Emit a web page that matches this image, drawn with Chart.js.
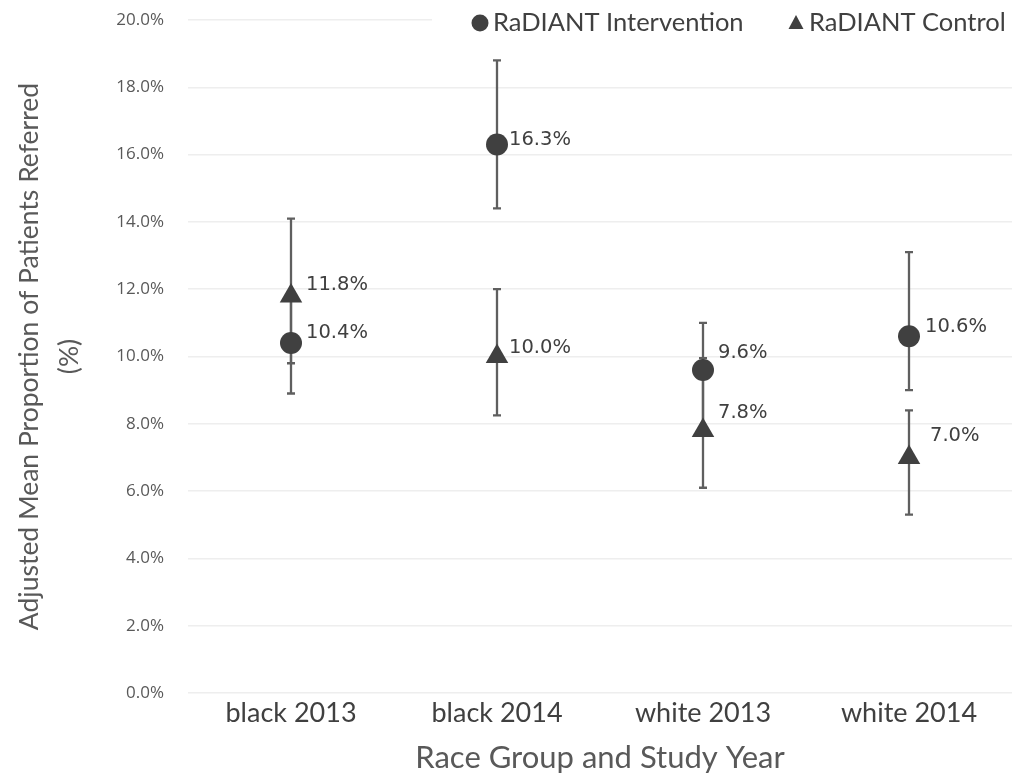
<!DOCTYPE html>
<html>
<head>
<meta charset="utf-8">
<style>
  html, body { margin: 0; padding: 0; background: #ffffff; overflow: hidden; }
  #wrap { width: 1025px; height: 777px; }
</style>
<script src="https://cdn.jsdelivr.net/npm/chart.js@4.4.1/dist/chart.umd.min.js"></script>
</head>
<body>
<div id="wrap"><canvas id="chart" width="1025" height="777"></canvas></div>
<script>
// Race group / study year categories
const categories = ['black 2013', 'black 2014', 'white 2013', 'white 2014'];

// Adjusted mean proportion referred (%), with 95% CI bounds
const intervention     = [10.4, 16.3, 9.6, 10.6];
const interventionLow  = [8.9, 14.4, 7.9, 9.0];
const interventionHigh = [11.9, 18.8, 11.0, 13.1];

const control     = [11.8, 10.0, 7.8, 7.0];
const controlLow  = [9.8, 8.25, 6.1, 5.3];
const controlHigh = [14.1, 12.0, 9.95, 8.4];

// y-axis ticks
const yTicks = [0, 2, 4, 6, 8, 10, 12, 14, 16, 18, 20];

// vertical nudge (px) of each value label relative to its marker
const intLabelDy  = [-10, -5, -17, -9];
const ctrlLabelDy = [-11, -9, -18, -22];

const markerColor = '#404040';
const barColor = '#5f5f5f';
const textDark = '#404040';
const textGray = '#595959';

// Error bars drawn beneath the markers, using the chart's own scales
const errorBars = {
  id: 'errorBars',
  beforeDatasetsDraw(chart) {
    const ctx = chart.ctx;
    const y = chart.scales.y;
    ctx.save();
    ctx.strokeStyle = barColor;
    ctx.lineWidth = 2.3;
    chart.data.datasets.forEach((ds, di) => {
      const meta = chart.getDatasetMeta(di);
      meta.data.forEach((pt, i) => {
        const x = pt.x;
        const y1 = y.getPixelForValue(ds.low[i]);
        const y2 = y.getPixelForValue(ds.high[i]);
        ctx.beginPath();
        ctx.moveTo(x, y1); ctx.lineTo(x, y2);
        ctx.moveTo(x - 4, y1); ctx.lineTo(x + 4, y1);
        ctx.moveTo(x - 4, y2); ctx.lineTo(x + 4, y2);
        ctx.stroke();
      });
    });
    ctx.restore();
  }
};

// Value labels beside each marker
const valueLabels = {
  id: 'valueLabels',
  afterDatasetsDraw(chart) {
    const ctx = chart.ctx;
    ctx.save();
    ctx.font = '19.5px "DejaVu Sans"';
    ctx.fillStyle = textDark;
    ctx.textAlign = 'left';
    ctx.textBaseline = 'middle';
    chart.data.datasets.forEach((ds, di) => {
      const meta = chart.getDatasetMeta(di);
      meta.data.forEach((pt, i) => {
        const dx = ds.labelDx[i];
        ctx.fillText(ds.data[i].toFixed(1) + '%', pt.x + dx, pt.y + ds.labelDy[i]);
      });
    });
    ctx.restore();
  }
};

// Legend row at the top right of the plot
const topLegend = {
  id: 'topLegend',
  afterDraw(chart) {
    const ctx = chart.ctx;
    ctx.save();
    ctx.fillStyle = '#ffffff';
    ctx.fillRect(432, 4, 593, 36);
    ctx.font = '25.5px Lato';
    ctx.textBaseline = 'middle';
    ctx.textAlign = 'left';
    const cy = 23;
    const items = [
      { x: 480, style: 'circle', label: chart.data.datasets[0].label },
      { x: 796, style: 'triangle', label: chart.data.datasets[1].label }
    ];
    items.forEach(it => {
      ctx.fillStyle = markerColor;
      if (it.style === 'circle') {
        ctx.beginPath();
        ctx.arc(it.x, cy, 8.5, 0, Math.PI * 2);
        ctx.fill();
      } else {
        ctx.beginPath();
        ctx.moveTo(it.x, cy - 8);
        ctx.lineTo(it.x + 7.5, cy + 6);
        ctx.lineTo(it.x - 7.5, cy + 6);
        ctx.closePath();
        ctx.fill();
      }
      ctx.fillStyle = textDark;
      ctx.fillText(it.label, it.x + 13, cy);
    });
    ctx.restore();
  }
};

new Chart(document.getElementById('chart'), {
  type: 'line',
  data: {
    labels: categories,
    datasets: [
      {
        label: 'RaDIANT Intervention',
        data: intervention,
        low: interventionLow,
        high: interventionHigh,
        labelDy: intLabelDy,
        labelDx: [15, 12, 15, 16],
        showLine: false,
        pointStyle: 'circle',
        pointRadius: 11,
        pointBackgroundColor: markerColor,
        pointBorderColor: markerColor,
        pointBorderWidth: 0
      },
      {
        label: 'RaDIANT Control',
        data: control,
        low: controlLow,
        high: controlHigh,
        labelDy: ctrlLabelDy,
        labelDx: [15, 12, 15, 21],
        showLine: false,
        pointStyle: 'triangle',
        pointRadius: 13,
        pointBackgroundColor: markerColor,
        pointBorderColor: markerColor,
        pointBorderWidth: 0
      }
    ]
  },
  options: {
    responsive: false,
    animation: false,
    layout: { padding: { top: 20, right: 4, left: 0, bottom: 0 } },
    plugins: {
      legend: { display: false },
      tooltip: { enabled: false }
    },
    scales: {
      x: {
        type: 'category',
        offset: true,
        grid: { display: false },
        border: { display: false },
        ticks: { color: textDark, font: { family: 'Lato', size: 27 }, padding: -4 },
        title: {
          display: true,
          text: 'Race Group and Study Year',
          color: textGray,
          font: { family: 'Lato', size: 31 },
          padding: { top: -2, bottom: 0 }
        },
        afterFit(scale) { scale.height = 84; }
      },
      y: {
        min: 0,
        max: 20,
        afterBuildTicks(scale) { scale.ticks = yTicks.map(v => ({ value: v })); },
        grid: { color: '#eeeeee', lineWidth: 1.5, drawTicks: false },
        border: { display: false },
        ticks: {
          color: textGray,
          font: { family: 'Open Sans', size: 17 },
          padding: 24,
          callback: v => v.toFixed(1) + '%'
        },
        title: {
          display: true,
          text: ['Adjusted Mean Proportion of Patients Referred', '(%)'],
          color: textGray,
          font: { family: 'Lato', size: 26.5, lineHeight: 1.5 },
          padding: { top: 10, bottom: 0 }
        },
        afterFit(scale) {
          scale.width = 188;
          scale.paddingTop = 10;
          scale.paddingBottom = 10;
        }
      }
    }
  },
  plugins: [errorBars, valueLabels, topLegend]
});
</script>
</body>
</html>
